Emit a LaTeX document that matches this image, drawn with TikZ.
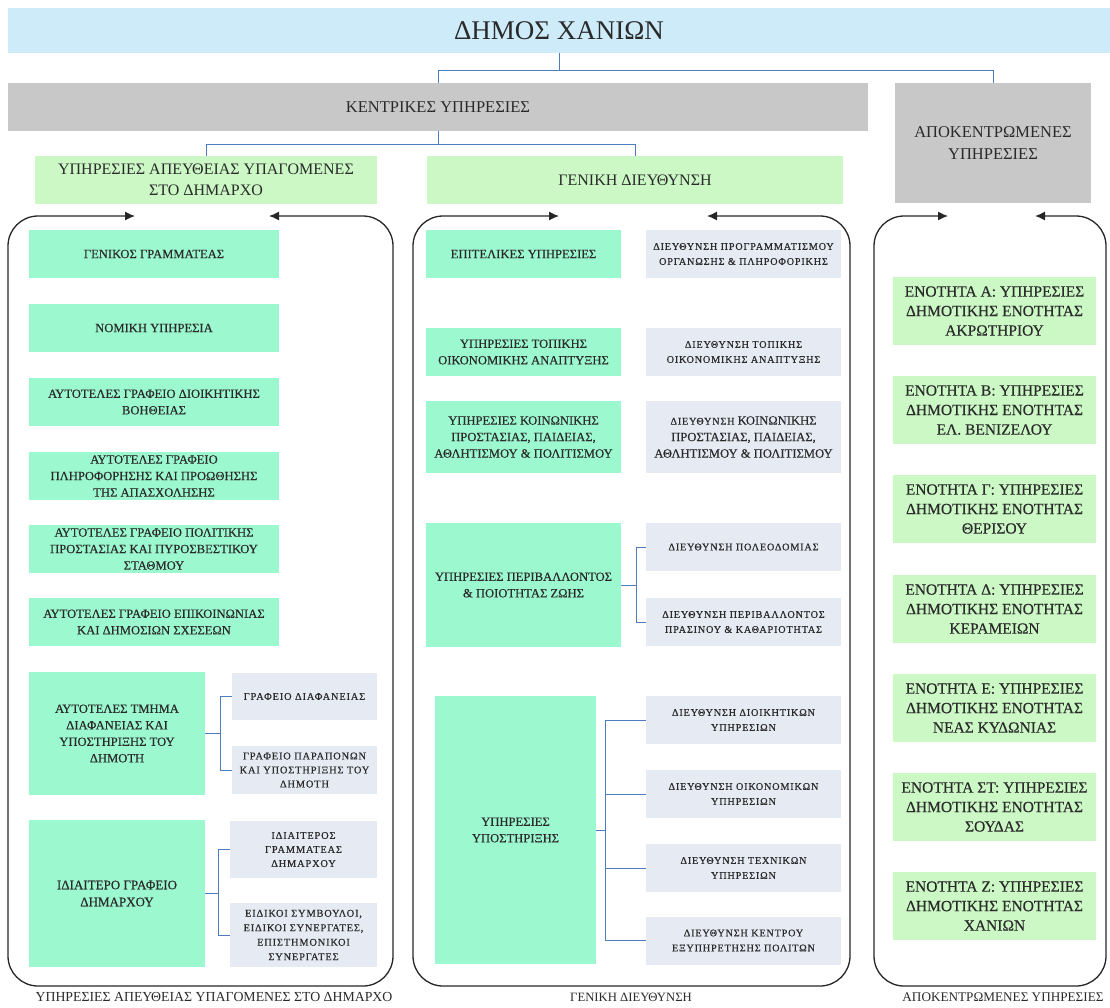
\documentclass[tikz,border=0pt]{standalone}
\usepackage{fontspec}
\setmainfont{Liberation Serif}
\newfontfamily\boxfont{Liberation Serif}[FakeBold=0.3]
\newfontfamily\spaced{Liberation Serif}[LetterSpace=8,FakeBold=0.5]
\usetikzlibrary{arrows.meta}
\definecolor{sky}{HTML}{CDEBF9}
\definecolor{greyhead}{HTML}{C8C8C8}
\definecolor{lightgreen}{HTML}{CCF8C6}
\definecolor{mintfill}{HTML}{9CF8CF}
\definecolor{pale}{HTML}{E6EAF3}
\definecolor{ink}{HTML}{2A2A2A}
\definecolor{linkblue}{HTML}{4F7BBF}

\begin{document}
\begin{tikzpicture}[x=1pt,y=-1pt,
  box/.style={inner sep=0pt, align=center, text=ink},
  headbox/.style={box, fill=greyhead, font=\fontsize{16.5}{22}\selectfont},
  groupbox/.style={box, fill=lightgreen, font=\fontsize{16}{21}\selectfont},
  unitbox/.style={box, fill=mintfill, font=\boxfont\fontsize{12.6}{16.5}\selectfont},
  subbox/.style={box, fill=pale, font=\spaced\fontsize{10.2}{15}\selectfont},
  areabox/.style={box, fill=lightgreen, font=\boxfont\fontsize{15.5}{19.5}\selectfont,
    minimum width=203pt, minimum height=68pt},
  link/.style={draw=linkblue, line width=1pt},
  frame/.style={draw=black!85, line width=1.3pt, rounded corners=30pt,
    {Latex[length=10pt,width=9pt]}-{Latex[length=10pt,width=9pt]}},
  caption/.style={text=ink, font=\fontsize{13.5}{16}\selectfont}]
\useasboundingbox (0,0) rectangle (1110,1007);
%%Top
\node[box, fill=sky, minimum width=1102pt, minimum height=45pt,
  font=\fontsize{27}{30}\selectfont] (dimos) at (559,30.5) {ΔΗΜΟΣ ΧΑΝΙΩΝ};
\node[headbox, minimum width=860pt, minimum height=48pt] (central) at (438,107) {ΚΕΝΤΡΙΚΕΣ ΥΠΗΡΕΣΙΕΣ};
\node[headbox, minimum width=196pt, minimum height=120pt] (decentral) at (993,143) {ΑΠΟΚΕΝΤΡΩΜΕΝΕΣ\\ΥΠΗΡΕΣΙΕΣ};
\node[groupbox, minimum width=342pt, minimum height=48pt] (direct) at (206,180) {ΥΠΗΡΕΣΙΕΣ ΑΠΕΥΘΕΙΑΣ ΥΠΑΓΟΜΕΝΕΣ\\ΣΤΟ ΔΗΜΑΡΧΟ};
\node[groupbox, minimum width=416pt, minimum height=48pt] (general) at (635,180) {ΓΕΝΙΚΗ ΔΙΕΥΘΥΝΣΗ};

\draw[link] (dimos.south) -- ++(0,17) -| (central.north);
\draw[link] (dimos.south) -- ++(0,17) -| (decentral.north);
\draw[link] (central.south) -- ++(0,13) -| (direct.north);
\draw[link] (central.south) -- ++(0,13) -| (general.north);

%%Frames
\draw[frame] (135,216) -- (8,216) -- (8,986) -- (393,986) -- (393,216) -- (269,216);
\draw[frame] (559,216) -- (413,216) -- (413,986) -- (850,986) -- (850,216) -- (707,216);
\draw[frame] (948,216) -- (874,216) -- (874,986) -- (1106,986) -- (1106,216) -- (1035,216);

%%Left column
\node[unitbox, minimum width=250pt, minimum height=48pt] (secgen) at (154,254) {ΓΕΝΙΚΟΣ ΓΡΑΜΜΑΤΕΑΣ};
\node[unitbox, minimum width=250pt, minimum height=48pt] (legal) at (154,328) {ΝΟΜΙΚΗ ΥΠΗΡΕΣΙΑ};
\node[unitbox, minimum width=250pt, minimum height=48pt] (admin) at (154,402) {ΑΥΤΟΤΕΛΕΣ ΓΡΑΦΕΙΟ ΔΙΟΙΚΗΤΙΚΗΣ\\ΒΟΗΘΕΙΑΣ};
\node[unitbox, minimum width=250pt, minimum height=48pt] (employ) at (154,476) {ΑΥΤΟΤΕΛΕΣ ΓΡΑΦΕΙΟ\\ΠΛΗΡΟΦΟΡΗΣΗΣ ΚΑΙ ΠΡΟΩΘΗΣΗΣ\\ΤΗΣ ΑΠΑΣΧΟΛΗΣΗΣ};
\node[unitbox, minimum width=250pt, minimum height=48pt] (civil) at (154,549) {ΑΥΤΟΤΕΛΕΣ ΓΡΑΦΕΙΟ ΠΟΛΙΤΙΚΗΣ\\ΠΡΟΣΤΑΣΙΑΣ ΚΑΙ ΠΥΡΟΣΒΕΣΤΙΚΟΥ\\ΣΤΑΘΜΟΥ};
\node[unitbox, minimum width=250pt, minimum height=48pt] (press) at (154,622) {ΑΥΤΟΤΕΛΕΣ ΓΡΑΦΕΙΟ ΕΠΙΚΟΙΝΩΝΙΑΣ\\ΚΑΙ ΔΗΜΟΣΙΩΝ ΣΧΕΣΕΩΝ};
\node[unitbox, minimum width=176pt, minimum height=123pt] (transp) at (117,733.5) {ΑΥΤΟΤΕΛΕΣ ΤΜΗΜΑ\\ΔΙΑΦΑΝΕΙΑΣ ΚΑΙ\\ΥΠΟΣΤΗΡΙΞΗΣ ΤΟΥ\\ΔΗΜΟΤΗ};
\node[unitbox, minimum width=176pt, minimum height=147pt, font=\boxfont\fontsize{13}{17}\selectfont] (mayor) at (117,893.5) {ΙΔΙΑΙΤΕΡΟ ΓΡΑΦΕΙΟ\\ΔΗΜΑΡΧΟΥ};
\node[subbox, minimum width=145pt, minimum height=47pt, font=\spaced\fontsize{10.4}{14}\selectfont] (transpoff) at (304.5,696.5) {ΓΡΑΦΕΙΟ ΔΙΑΦΑΝΕΙΑΣ};
\node[subbox, minimum width=145pt, minimum height=48pt, font=\spaced\fontsize{10.4}{14}\selectfont] (complaints) at (304.5,770) {ΓΡΑΦΕΙΟ ΠΑΡΑΠΟΝΩΝ\\ΚΑΙ ΥΠΟΣΤΗΡΙΞΗΣ ΤΟΥ\\ΔΗΜΟΤΗ};
\node[subbox, minimum width=147pt, minimum height=57pt, font=\spaced\fontsize{10.4}{14}\selectfont] (privsec) at (303.5,849.5) {ΙΔΙΑΙΤΕΡΟΣ\\ΓΡΑΜΜΑΤΕΑΣ\\ΔΗΜΑΡΧΟΥ};
\node[subbox, minimum width=147pt, minimum height=64pt, font=\spaced\fontsize{10.4}{14.5}\selectfont] (advisors) at (303.5,935) {ΕΙΔΙΚΟΙ ΣΥΜΒΟΥΛΟΙ,\\ΕΙΔΙΚΟΙ ΣΥΝΕΡΓΑΤΕΣ,\\ΕΠΙΣΤΗΜΟΝΙΚΟΙ\\ΣΥΝΕΡΓΑΤΕΣ};

\draw[link] (transp.east) -- ++(15,0) |- (transpoff.west);
\draw[link] (transp.east) -- ++(15,0) |- (complaints.west);
\draw[link] (mayor.east) -- ++(13,0) |- (privsec.west);
\draw[link] (mayor.east) -- ++(13,0) |- (advisors.west);

%%Middle column
\node[unitbox, minimum width=195pt, minimum height=48pt] (staff) at (523.5,254) {ΕΠΙΤΕΛΙΚΕΣ ΥΠΗΡΕΣΙΕΣ};
\node[unitbox, minimum width=195pt, minimum height=48pt] (localsrv) at (523.5,352) {ΥΠΗΡΕΣΙΕΣ ΤΟΠΙΚΗΣ\\ΟΙΚΟΝΟΜΙΚΗΣ ΑΝΑΠΤΥΞΗΣ};
\node[unitbox, minimum width=195pt, minimum height=72pt] (socialsrv) at (523.5,437) {ΥΠΗΡΕΣΙΕΣ ΚΟΙΝΩΝΙΚΗΣ\\ΠΡΟΣΤΑΣΙΑΣ, ΠΑΙΔΕΙΑΣ,\\ΑΘΛΗΤΙΣΜΟΥ \& ΠΟΛΙΤΙΣΜΟΥ};
\node[unitbox, minimum width=195pt, minimum height=124pt] (envsrv) at (523.5,585) {ΥΠΗΡΕΣΙΕΣ ΠΕΡΙΒΑΛΛΟΝΤΟΣ\\\& ΠΟΙΟΤΗΤΑΣ ΖΩΗΣ};
\node[unitbox, minimum width=161pt, minimum height=268pt] (support) at (515.5,830) {ΥΠΗΡΕΣΙΕΣ\\ΥΠΟΣΤΗΡΙΞΗΣ};

\node[subbox, minimum width=195pt, minimum height=48pt] (planning) at (743.5,254) {ΔΙΕΥΘΥΝΣΗ ΠΡΟΓΡΑΜΜΑΤΙΣΜΟΥ\\ΟΡΓΑΝΩΣΗΣ \& ΠΛΗΡΟΦΟΡΙΚΗΣ};
\node[subbox, minimum width=195pt, minimum height=48pt] (localdir) at (743.5,352) {ΔΙΕΥΘΥΝΣΗ ΤΟΠΙΚΗΣ\\ΟΙΚΟΝΟΜΙΚΗΣ ΑΝΑΠΤΥΞΗΣ};
\node[subbox, minimum width=195pt, minimum height=72pt, font=\boxfont\fontsize{12.6}{16.5}\selectfont] (socialdir) at (743.5,437) {{\spaced\fontsize{10.2}{15}\selectfont ΔΙΕΥΘΥΝΣΗ} ΚΟΙΝΩΝΙΚΗΣ\\ΠΡΟΣΤΑΣΙΑΣ, ΠΑΙΔΕΙΑΣ,\\ΑΘΛΗΤΙΣΜΟΥ \& ΠΟΛΙΤΙΣΜΟΥ};
\node[subbox, minimum width=195pt, minimum height=48pt] (urban) at (743.5,547) {ΔΙΕΥΘΥΝΣΗ ΠΟΛΕΟΔΟΜΙΑΣ};
\node[subbox, minimum width=195pt, minimum height=48pt] (greendir) at (743.5,622) {ΔΙΕΥΘΥΝΣΗ ΠΕΡΙΒΑΛΛΟΝΤΟΣ\\ΠΡΑΣΙΝΟΥ \& ΚΑΘΑΡΙΟΤΗΤΑΣ};
\node[subbox, minimum width=195pt, minimum height=48pt] (admindir) at (743.5,720) {ΔΙΕΥΘΥΝΣΗ ΔΙΟΙΚΗΤΙΚΩΝ\\ΥΠΗΡΕΣΙΩΝ};
\node[subbox, minimum width=195pt, minimum height=48pt] (findir) at (743.5,794) {ΔΙΕΥΘΥΝΣΗ ΟΙΚΟΝΟΜΙΚΩΝ\\ΥΠΗΡΕΣΙΩΝ};
\node[subbox, minimum width=195pt, minimum height=48pt] (techdir) at (743.5,868) {ΔΙΕΥΘΥΝΣΗ ΤΕΧΝΙΚΩΝ\\ΥΠΗΡΕΣΙΩΝ};
\node[subbox, minimum width=195pt, minimum height=48pt] (citdir) at (743.5,940.5) {ΔΙΕΥΘΥΝΣΗ ΚΕΝΤΡΟΥ\\ΕΞΥΠΗΡΕΤΗΣΗΣ ΠΟΛΙΤΩΝ};

\draw[link] (envsrv.east) -- ++(15,0) |- (urban.west);
\draw[link] (envsrv.east) -- ++(15,0) |- (greendir.west);
\draw[link] (support.east) -- ++(9,0) |- (admindir.west);
\draw[link] (support.east) -- ++(9,0) |- (findir.west);
\draw[link] (support.east) -- ++(9,0) |- (techdir.west);
\draw[link] (support.east) -- ++(9,0) |- (citdir.west);

%%Right column
\node[areabox] (secA) at (994.5,311) {ΕΝΟΤΗΤΑ Α: ΥΠΗΡΕΣΙΕΣ\\ΔΗΜΟΤΙΚΗΣ ΕΝΟΤΗΤΑΣ\\ΑΚΡΩΤΗΡΙΟΥ};
\node[areabox] (secB) at (994.5,410) {ΕΝΟΤΗΤΑ Β: ΥΠΗΡΕΣΙΕΣ\\ΔΗΜΟΤΙΚΗΣ ΕΝΟΤΗΤΑΣ\\ΕΛ. ΒΕΝΙΖΕΛΟΥ};
\node[areabox] (secC) at (994.5,509) {ΕΝΟΤΗΤΑ Γ: ΥΠΗΡΕΣΙΕΣ\\ΔΗΜΟΤΙΚΗΣ ΕΝΟΤΗΤΑΣ\\ΘΕΡΙΣΟΥ};
\node[areabox] (secD) at (994.5,609) {ΕΝΟΤΗΤΑ Δ: ΥΠΗΡΕΣΙΕΣ\\ΔΗΜΟΤΙΚΗΣ ΕΝΟΤΗΤΑΣ\\ΚΕΡΑΜΕΙΩΝ};
\node[areabox] (secE) at (994.5,708) {ΕΝΟΤΗΤΑ Ε: ΥΠΗΡΕΣΙΕΣ\\ΔΗΜΟΤΙΚΗΣ ΕΝΟΤΗΤΑΣ\\ΝΕΑΣ ΚΥΔΩΝΙΑΣ};
\node[areabox] (secF) at (994.5,807) {ΕΝΟΤΗΤΑ ΣΤ: ΥΠΗΡΕΣΙΕΣ\\ΔΗΜΟΤΙΚΗΣ ΕΝΟΤΗΤΑΣ\\ΣΟΥΔΑΣ};
\node[areabox] (secG) at (994.5,906) {ΕΝΟΤΗΤΑ Ζ: ΥΠΗΡΕΣΙΕΣ\\ΔΗΜΟΤΙΚΗΣ ΕΝΟΤΗΤΑΣ\\ΧΑΝΙΩΝ};

%%Label
\node[caption, font=\fontsize{13.8}{16}\selectfont] (capdirect) at (214,997) {ΥΠΗΡΕΣΙΕΣ ΑΠΕΥΘΕΙΑΣ ΥΠΑΓΟΜΕΝΕΣ ΣΤΟ ΔΗΜΑΡΧΟ};
\node[caption, font=\fontsize{12.7}{16}\selectfont] (capgeneral) at (631,997) {ΓΕΝΙΚΗ ΔΙΕΥΘΥΝΣΗ};
\node[caption, font=\fontsize{13.2}{16}\selectfont] (capdecentral) at (1003,997) {ΑΠΟΚΕΝΤΡΩΜΕΝΕΣ ΥΠΗΡΕΣΙΕΣ};
\end{tikzpicture}
\end{document}
